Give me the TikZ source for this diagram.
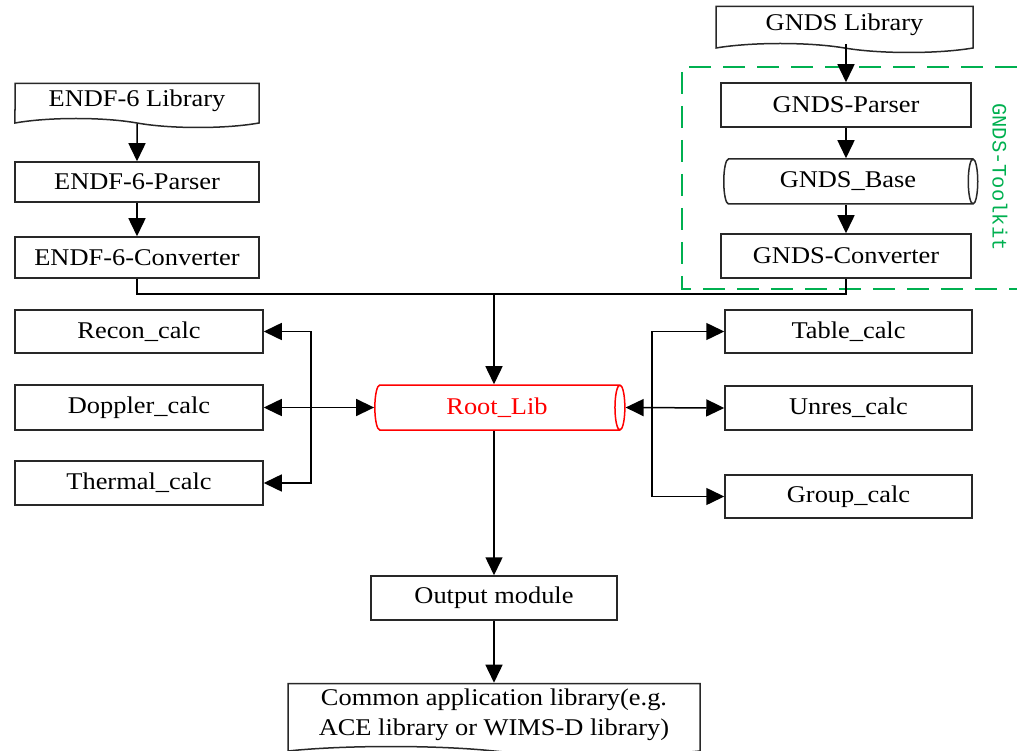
\documentclass[tikz,border=0pt]{standalone}
\usepackage{fontspec}
\setmainfont{Liberation Serif}[FakeStretch=1.1]
\setmonofont{Liberation Mono}
\usetikzlibrary{arrows.meta, shapes.geometric, shapes.symbols}
\definecolor{boxline} {RGB}{40,  40,  40}
\definecolor{rootred} {RGB}{255,  0,   0}
\definecolor{kitgreen}{RGB}{0,  176,  80}

\begin{document}
\begin{tikzpicture}[x=1pt, y=-1pt, line width=1.5pt,
  font=\fontsize{24}{30}\selectfont,
  box/.style={draw=boxline, rectangle, inner sep=0pt, minimum width=248pt, minimum height=44pt},
  doc/.style={draw=boxline, tape, tape bend top=none, tape bend bottom=out and in,
    tape bend height=9pt, inner sep=0pt, align=center},
  db/.style={draw=boxline, cylinder, shape border rotate=0, aspect=0.5, inner sep=0pt,
    minimum height=250pt, minimum width=45pt},
  arr/.style={-{Triangle[length=18pt, width=17pt]}},
  arr2/.style={{Triangle[length=18pt, width=17pt]}-{Triangle[length=18pt, width=17pt]}}]
  \useasboundingbox (0,0) rectangle (1017,751);
  % ENDF-6 branch
  \node[doc, minimum width=244pt, minimum height=44pt] (endflib) at (137,101) {ENDF-6 Library};
  \node[box, minimum width=244pt, minimum height=40pt] (endfparser) at (137,182) {ENDF-6-Parser};
  \node[box, minimum width=244pt, minimum height=41pt] (endfconv) at (137,257.5) {ENDF-6-Converter};
  % GNDS branch
  \node[doc, minimum width=257pt, minimum height=46pt] (gndslib) at (844.5,25) {GNDS Library};
  \node[box, minimum width=250pt] (gndsparser) at (846,105) {GNDS-Parser};
  \node[db, minimum height=254pt] (gndsbase) at (848,181.5) {GNDS\_Base};
  \node[box, minimum width=250pt] (gndsconv) at (846,256) {GNDS-Converter};
  % toolkit frame
  \draw[kitgreen, line width=1.3pt, dash pattern=on 22pt off 12pt]
    (1017,67) -- (682,67) -- (682,289) -- (1017,289);
  \node[kitgreen, rotate=-90, font=\ttfamily\fontsize{20.5}{24}\selectfont] (toolkit) at (1000,177) {GNDS-Toolkit};
  % root library
  \node[db, draw=rootred, text=rootred] (rootlib) at (497,407.5) {Root\_Lib};
  \coordinate (merge) at (494,294);
  % left calc modules
  \node[box, minimum height=43pt] (recon) at (139,331.5) {Recon\_calc};
  \node[box, minimum height=45pt] (doppler) at (139,407.5) {Doppler\_calc};
  \node[box] (thermal) at (139,483) {Thermal\_calc};
  \coordinate (lbus) at (311,407.5);
  % right calc modules
  \node[box, minimum width=247pt, minimum height=43pt] (table) at (848.5,331.5) {Table\_calc};
  \node[box, minimum width=247pt] (unres) at (848.5,408) {Unres\_calc};
  \node[box, minimum width=247pt, minimum height=43pt] (group) at (848.5,496.5) {Group\_calc};
  \coordinate (rbus) at (652,408);
  % output
  \node[box, minimum width=246pt] (output) at (494,598) {Output module};
  \node[doc, minimum width=412pt, minimum height=72pt] (common) at (494,715)
    {Common application library(e.g.\\ACE library or WIMS-D library)};
  % connectors
  \draw[arr] (endflib) -- (endfparser);
  \draw[arr] (endfparser) -- (endfconv);
  \draw[arr] (gndslib.south -| gndsparser.north) -- (gndsparser);
  \draw[arr] (gndsparser) -- (gndsbase.north -| gndsparser.south);
  \draw[arr] (gndsbase.south -| gndsconv.north) -- (gndsconv);
  \draw (endfconv.south) |- (merge) -| (gndsconv.south);
  \draw[arr] (merge) -- (merge |- rootlib.north);
  \draw[arr2] (doppler.east) -- (rootlib.west);
  \draw[arr2] (recon.east) -| (lbus) |- (thermal.east);
  \draw[arr2] (rootlib.east) -- (unres.west);
  \draw[arr2] (table.west) -| (rbus) |- (group.west);
  \draw[arr] (output.north |- rootlib.south) -- (output.north);
  \draw[arr] (output) -- (common);
\end{tikzpicture}
\end{document}
